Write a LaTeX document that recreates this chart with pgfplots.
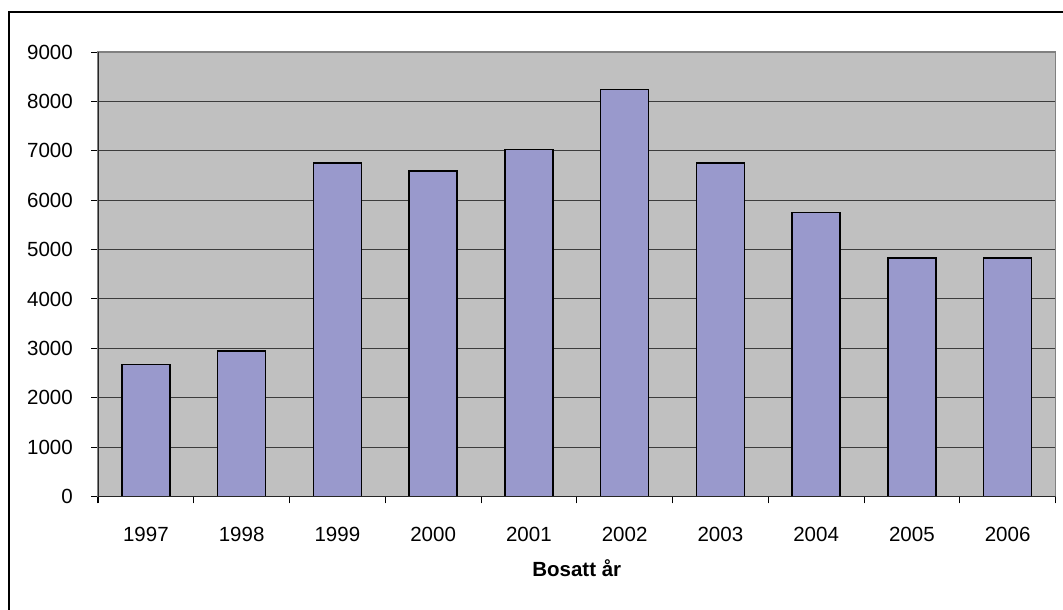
\documentclass[border=0pt]{standalone}
\usepackage{fontspec}
\setmainfont{Liberation Sans}
\usepackage{pgfplots}
\pgfplotsset{compat=1.18}
\definecolor{plotbg}{RGB}{192,192,192}
\definecolor{barfill}{RGB}{153,153,204}
\definecolor{gridc}{RGB}{60,60,60}

\begin{document}
\fontsize{20.5}{24}\selectfont
\begin{tikzpicture}
\useasboundingbox (0pt,0pt) rectangle (1063pt,610pt);
\draw[line width=2pt] (9pt,-20pt) -- (9pt,598pt) -- (1090pt,598pt);
\begin{axis}[
    at={(98pt,113.5pt)}, anchor=south west,
    width=957.5pt, height=444.4pt, scale only axis,
    xmin=-0.5, xmax=9.5,
    ymin=0, ymax=9000,
    ytick={0,1000,...,9000},
    xtick={0,...,9},
    xticklabels={1997,1998,1999,2000,2001,2002,2003,2004,2005,2006},
    minor xtick={-0.5,0.5,...,9.5},
    tick pos=left, tick align=outside,
    major x tick style={draw=none},
    minor x tick style={black, line width=1pt},
    major y tick style={black, line width=1pt},
    major tick length=7pt, minor tick length=7pt,
    ymajorgrids, major grid style={gridc, line width=1pt},
    axis background/.style={fill=plotbg},
    axis line style={draw=gray, line width=1.2pt},
    yticklabel style={anchor=east, inner sep=0pt, xshift=-18pt},
    xticklabel style={anchor=base, inner sep=0pt, yshift=-38.5pt},
    /pgf/number format/assume math mode=true,
    yticklabel={\pgfmathprintnumber[fixed,1000 sep={}]{\tick}},
    xlabel={\textbf{Bosatt år}},
    xlabel style={at={(axis description cs:0.5,0)}, anchor=base, inner sep=0pt, yshift=-80.5pt},
    ybar, bar width=48pt,
]
\addplot[fill=barfill, draw=black, line width=1.6pt] coordinates {
(0,2673) (1,2950) (2,6755) (3,6590) (4,7030)
(5,8240) (6,6750) (7,5750) (8,4830) (9,4830)
};
\draw[black!85, line width=1.2pt] (axis cs:-0.5,9000) -- (axis cs:-0.5,0) -- (axis cs:9.5,0);
\end{axis}
\end{tikzpicture}
\end{document}
